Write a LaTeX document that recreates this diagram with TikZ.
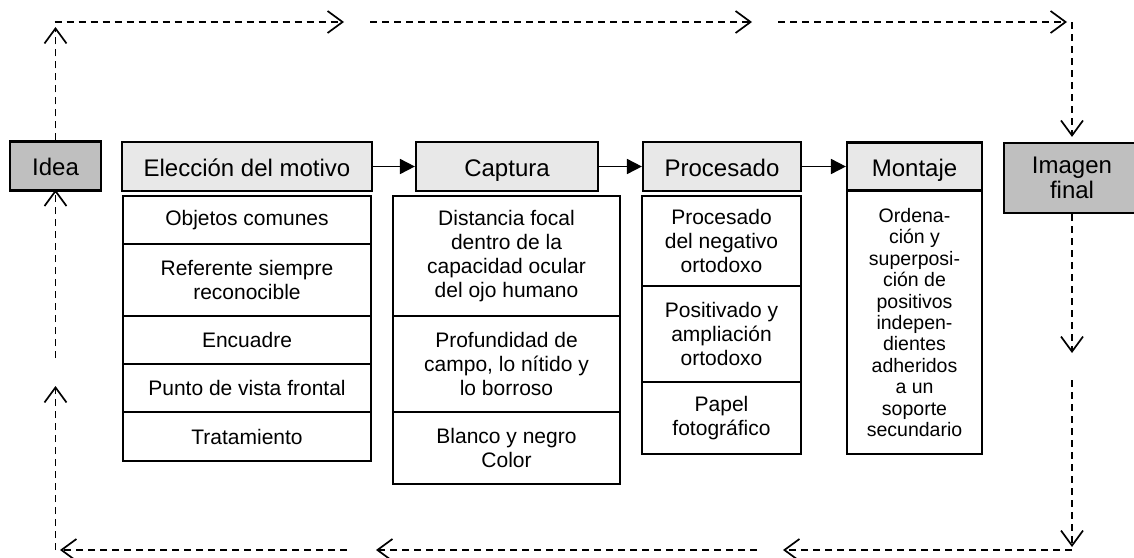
\documentclass[tikz,border=0pt]{standalone}
\usepackage{fontspec}
\setmainfont{Liberation Sans}
\usetikzlibrary{arrows.meta}
\newcommand\hdfont{\fontsize{24}{25}\selectfont}
\newcommand\lsfont{\fontsize{21}{24}\selectfont}
\newcommand\mtfont{\fontsize{19.5}{21.4}\selectfont}
\definecolor{hdlight}{gray}{0.91}
\definecolor{hddark}{gray}{0.75}
\tikzset{
  box/.style={draw, line width=2.2pt, inner sep=0pt, align=center},
  hdbox/.style={box, fill=hdlight, font=\hdfont, text height=21pt, text depth=2pt},
  keybox/.style={box, fill=hddark, font=\hdfont},
  cell/.style={box, fill=white, font=\lsfont},
  mcell/.style={box, fill=white, font=\mtfont},
  flow/.style={line width=1.8pt, -{Triangle[length=15pt,width=15pt]}},
  loop/.style={line width=1.7pt, dash pattern=on 7pt off 5pt, -{Straight Barb[length=15pt,width=22pt]}}
}
\begin{document}
\begin{tikzpicture}[x=1pt,y=-1pt]
\useasboundingbox (0,0) rectangle (1134,557);
% header row
\node[keybox, minimum width=91, minimum height=49, text height=21pt, text depth=2pt] (idea) at (55.5,166) {Idea};
\node[hdbox, minimum width=250, minimum height=49] (eh) at (247,166.5) {Elección del motivo};
\node[hdbox, minimum width=182, minimum height=49] (ch) at (507,166.5) {Captura};
\node[hdbox, minimum width=158, minimum height=49] (ph) at (722,166.5) {Procesado};
\node[hdbox, minimum width=135, minimum height=48] (mh) at (914.5,166.5) {Montaje};
\node[keybox, minimum width=136, minimum height=70] (imf) at (1072,178) {Imagen\\final};
% Elección list
\node[cell, minimum width=248, minimum height=48] (e1) at (247,220) {Objetos comunes};
\node[cell, minimum width=248, minimum height=72] (e2) at (247,280) {Referente siempre\\reconocible};
\node[cell, minimum width=248, minimum height=48] (e3) at (247,340) {Encuadre};
\node[cell, minimum width=248, minimum height=48] (e4) at (247,388) {Punto de vista frontal};
\node[cell, minimum width=248, minimum height=49] (e5) at (247,436.5) {Tratamiento};
% Captura list
\node[cell, minimum width=227, minimum height=120] (c1) at (506.5,256) {Distancia focal\\dentro de la\\capacidad ocular\\del ojo humano};
\node[cell, minimum width=227, minimum height=96] (c2) at (506.5,364) {Profundidad de\\campo, lo nítido y\\lo borroso};
\node[cell, minimum width=227, minimum height=72] (c3) at (506.5,448) {Blanco y negro\\Color};
% Procesado list
\node[cell, minimum width=159, minimum height=90] (p1) at (721.5,241) {Procesado\\del negativo\\ortodoxo};
\node[cell, minimum width=159, minimum height=96] (p2) at (721.5,334) {Positivado y\\ampliación\\ortodoxo};
\node[cell, minimum width=159, minimum height=72] (p3) at (721.5,418) {Papel\\fotográfico};
% Montaje list
\node[mcell, minimum width=135, minimum height=263] (m1) at (914.5,322.5) {Ordena-\\ción y\\superposi-\\ción de\\positivos\\indepen-\\dientes\\adheridos\\a un\\soporte\\secundario};
% solid flow
\draw[flow] (eh.east) -- (ch.west);
\draw[flow] (ch.east) -- (ph.west);
\draw[flow] (ph.east) -- (mh.west);
% loop coordinates
\coordinate (tl) at (55.5,27);
\coordinate (t0) at (54.5,22);
\coordinate (t1) at (344,22);
\coordinate (t2) at (370,22);
\coordinate (t3) at (752,22);
\coordinate (t4) at (778,22);
\coordinate (t5) at (1067,22);
\coordinate (tr) at (1072,22);
\coordinate (r1) at (1072,353);
\coordinate (r2) at (1072,380);
\coordinate (r3) at (1072,547);
\coordinate (b0) at (1072,550);
\coordinate (b1) at (783,550);
\coordinate (b2) at (757,550);
\coordinate (b3) at (376,550);
\coordinate (b4) at (347,550);
\coordinate (b5) at (60,550);
\coordinate (l0) at (55.5,550);
\coordinate (l1) at (55.5,386);
\coordinate (l2) at (55.5,358);
% dashed loop
\draw[loop] (idea.north) -- (tl);
\draw[loop] (t0) -- (t1);
\draw[loop] (t2) -- (t3);
\draw[loop] (t4) -- (t5);
\draw[loop, shorten >=5pt] (tr) -- (imf.north);
\draw[loop] (imf.south) -- (r1);
\draw[loop] (r2) -- (r3);
\draw[loop] (b0) -- (b1);
\draw[loop] (b2) -- (b3);
\draw[loop] (b4) -- (b5);
\draw[loop] (l0) -- (l1);
\draw[loop, shorten >=-2pt] (l2) -- (idea.south);
\end{tikzpicture}
\end{document}
